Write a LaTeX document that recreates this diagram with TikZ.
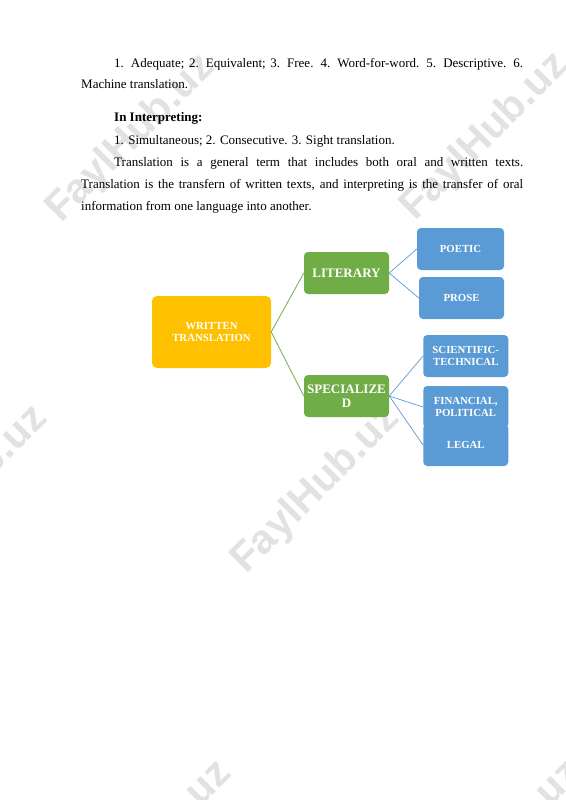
\documentclass[tikz,border=0pt]{standalone}
\usepackage{fontspec}
\setmainfont{Liberation Serif}
\newfontfamily\wmfont{Liberation Sans}
\definecolor{wtorange}{HTML}{FFC000}
\definecolor{litgreen}{HTML}{70AD47}
\definecolor{subblue}{HTML}{5B9BD5}
\definecolor{wmgray}{HTML}{E2E2E2}
\tikzset{
  bodytext/.style={anchor=base west, inner sep=0pt, font=\fontsize{13}{15}\selectfont},
  wmark/.style={text=wmgray, inner sep=0pt, rotate=45, font=\wmfont\bfseries\fontsize{41}{41}\selectfont},
  mainbox/.style={fill=wtorange, rounded corners=5pt, text=white, align=center, inner sep=0pt,
    minimum width=119pt, minimum height=72pt, font=\bfseries\fontsize{10.8}{11.5}\selectfont},
  midbox/.style={fill=litgreen, rounded corners=4pt, text=white, align=center, inner sep=0pt,
    minimum width=85pt, minimum height=42pt, font=\bfseries\fontsize{13}{14.5}\selectfont},
  leafbox/.style={fill=subblue, rounded corners=4pt, text=white, align=center, inner sep=0pt,
    minimum width=85pt, minimum height=42pt, font=\bfseries\fontsize{10.8}{12}\selectfont},
  greenlink/.style={draw=litgreen, line width=0.8pt},
  bluelink/.style={draw=subblue, line width=0.7pt}
}
\begin{document}
\begin{tikzpicture}[x=1pt,y=-1pt]
\useasboundingbox (0,0) rectangle (565,800);
\fill[white] (0,0) rectangle (565,800);
% watermarks
\begin{scope}
\clip (0,0) rectangle (565,800);
\node[wmark] (w1) at (131,139) {FaylHub.uz};
\node[wmark] (w2) at (485,137) {FaylHub.uz};
\node[wmark] (w3) at (-36,490) {FaylHub.uz};
\node[wmark] (w4) at (316,490) {FaylHub.uz};
\node[wmark] (w5) at (148,845) {FaylHub.uz};
\node[wmark] (w6) at (498,845) {FaylHub.uz};
\end{scope}
% body text
\node[bodytext] (l1) at (114,67) {\makebox[409pt][s]{1. Adequate; 2. Equivalent; 3. Free. 4. Word-for-word. 5. Descriptive. 6.}};
\node[bodytext] (l2) at (81,88.5) {Machine translation.};
\node[bodytext] (l3) at (114,121.5) {\bfseries In Interpreting:};
\node[bodytext] (l4) at (114,144) {1. Simultaneous; 2. Consecutive. 3. Sight translation.};
\node[bodytext] (l5) at (114,166.5) {\makebox[409pt][s]{Translation is a general term that includes both oral and written texts.}};
\node[bodytext] (l6) at (81,188.5) {\makebox[442pt][s]{Translation is the transfern of written texts, and interpreting is the transfer of oral}};
\node[bodytext] (l7) at (81,210.5) {information from one language into another.};
% diagram
\node[mainbox] (wt) at (211.5,332) {WRITTEN\\TRANSLATION};
\node[midbox] (lit) at (346.5,273) {LITERARY};
\node[midbox] (spec) at (346.5,396) {SPECIALIZE\\D};
\node[leafbox, minimum width=87pt] (poetic) at (460.5,249) {POETIC};
\node[leafbox] (prose) at (461.5,298) {PROSE};
\node[leafbox] (sci) at (465.75,356) {SCIENTIFIC-\\TECHNICAL};
\node[leafbox] (fin) at (465.75,407) {FINANCIAL,\\POLITICAL};
\node[leafbox] (legal) at (465.75,445) {LEGAL};
\draw[greenlink] (wt.east) -- (lit.west);
\draw[greenlink] (wt.east) -- (spec.west);
\draw[bluelink] (lit.east) -- (poetic.west);
\draw[bluelink] (lit.east) -- (prose.west);
\draw[bluelink] (spec.east) -- (sci.west);
\draw[bluelink] (spec.east) -- (fin.west);
\draw[bluelink] (spec.east) -- (legal.west);
\end{tikzpicture}
\end{document}
